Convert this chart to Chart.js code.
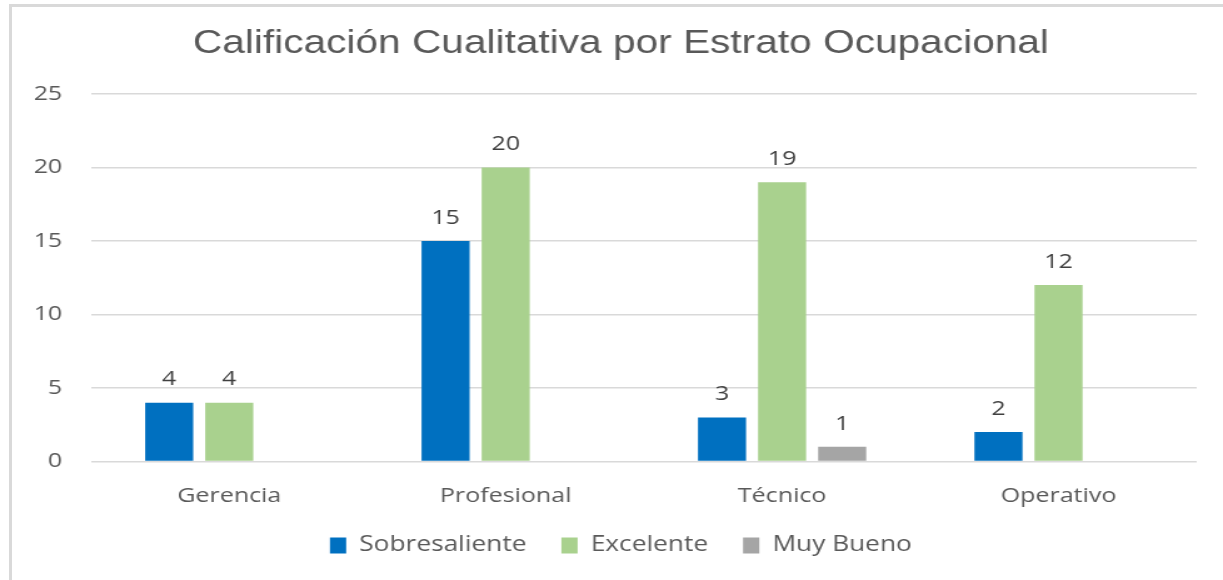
<!DOCTYPE html>
<html><head><meta charset="utf-8">
<script src="https://cdn.jsdelivr.net/npm/chart.js@4.4.0/dist/chart.umd.min.js"></script>
<style>
html,body{margin:0;padding:0;background:#fff;width:1223px;height:580px;overflow:hidden}
#frame{position:absolute;left:9px;top:4px;width:1300px;height:700px;border-left:3px solid #d9d9d9;border-top:3px solid #d9d9d9;box-sizing:border-box}
#wrap{position:absolute;left:0;top:0;width:978px;height:580px;transform:scaleX(1.2505);transform-origin:0 0}
</style></head><body>
<div id="frame"></div>
<div id="wrap"><canvas id="c"></canvas></div>
<script>
const title = 'Calificación Cualitativa por Estrato Ocupacional';
const categories = ['Gerencia', 'Profesional', 'Técnico', 'Operativo'];
const seriesNames = ['Sobresaliente', 'Excelente', 'Muy Bueno'];
const sobresaliente = [4, 15, 3, 2];
const excelente = [4, 20, 19, 12];
const muyBueno = [null, null, 1, null];
const yTicks = [0, 5, 10, 15, 20, 25];
const colors = ['#0070C0', '#A9D18E', '#A5A5A5'];

const textColor = '#595959';

const valueLabels = {
  id: 'valueLabels',
  afterDatasetsDraw(chart) {
    const ctx = chart.ctx;
    ctx.save();
    ctx.font = '20px "Open Sans"';
    ctx.fillStyle = '#404040';
    ctx.textAlign = 'center';
    ctx.textBaseline = 'middle';
    chart.data.datasets.forEach((ds, i) => {
      const meta = chart.getDatasetMeta(i);
      meta.data.forEach((bar, j) => {
        const v = ds.data[j];
        if (v === null || v === undefined) return;
        ctx.fillText(String(v), bar.x, bar.y - 23);
      });
    });
    ctx.restore();
  }
};

new Chart(document.getElementById('c'), {
  type: 'bar',
  data: {
    labels: categories,
    datasets: [
      { label: seriesNames[0], data: sobresaliente, backgroundColor: colors[0] },
      { label: seriesNames[1], data: excelente, backgroundColor: colors[1] },
      { label: seriesNames[2], data: muyBueno, backgroundColor: colors[2] }
    ]
  },
  options: {
    responsive: true,
    maintainAspectRatio: false,
    animation: false,
    events: [],
    layout: { padding: { left: 25, right: 10, top: 0, bottom: 14 } },
    datasets: { bar: { categoryPercentage: 0.652, barPercentage: 0.8, grouped: true } },
    plugins: {
      title: {
        display: true,
        text: title,
        color: textColor,
        font: { family: '"Liberation Sans", Arial', size: 32.5, weight: 'normal' },
        padding: { top: 25, bottom: 30 }
      },
      legend: {
        position: 'bottom',
        labels: {
          color: textColor,
          boxWidth: 13,
          boxHeight: 16,
          padding: 28,
          font: { family: '"Open Sans"', size: 21 }
        }
      },
      tooltip: { enabled: false }
    },
    scales: {
      x: {
        grid: { display: false },
        border: { display: false },
        ticks: { color: textColor, padding: 15, font: { family: '"Open Sans"', size: 20 } },
        afterFit(s) { s.height = 45.5; }
      },
      y: {
        min: 0, max: 25,
        grid: { color: '#d9d9d9', lineWidth: 1.5, drawTicks: false },
        border: { display: false },
        ticks: { color: textColor, padding: 23, font: { family: '"Open Sans"', size: 20 } },
        afterBuildTicks(s) { s.ticks = yTicks.map(v => ({ value: v })); },
        afterFit(s) { s.width = 47.8; }
      },
      yRightSpace: {
        type: 'linear',
        position: 'right',
        grid: { display: false },
        border: { display: false },
        ticks: { display: false },
        afterFit(s) { s.width = 11; }
      }
    }
  },
  plugins: [valueLabels]
});
</script>
</body></html>
